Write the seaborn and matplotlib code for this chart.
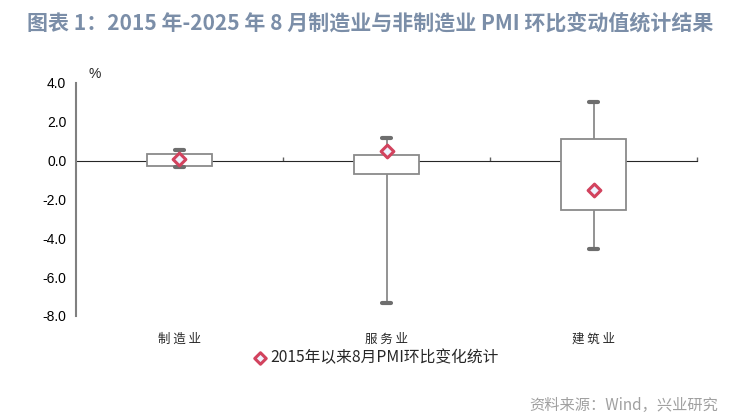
import numpy as np
import pandas as pd
import matplotlib
matplotlib.use('Agg')
import matplotlib.pyplot as plt
import seaborn as sns

# 2015-2025年8月 PMI 环比变动值
categories = ['制 造 业', '服 务 业', '建 筑 业']
whisker_low = [-0.35, -7.33, -4.55]
box_low = [-0.27, -0.69, -2.54]
box_mid = [0.05, -0.20, -0.70]    # 中位线不显示，只用来凑五点数据
box_high = [0.32, 0.27, 1.12]
whisker_high = [0.55, 1.19, 3.00]
mean_vals = [0.09, 0.50, -1.51]
yticks = [-8, -6, -4, -2, 0, 2, 4]
legend_label = '2015年以来8月PMI环比变化统计'

sns.set_style('white')
plt.rcParams['font.family'] = ['Liberation Sans', 'Noto Sans CJK SC', 'DejaVu Sans']
plt.rcParams['axes.unicode_minus'] = False

rows = []
for i, c in enumerate(categories):
    for v in [whisker_low[i], box_low[i], box_mid[i], box_high[i], whisker_high[i]]:
        rows.append({'cat': c, 'val': v})
df = pd.DataFrame(rows)
means = pd.DataFrame({'cat': categories, 'val': mean_vals})

fig = plt.figure(figsize=(7.56, 4.19), dpi=100)
ax = fig.add_axes([0.1005, 0.246, 0.8215, 0.556])

sns.boxplot(data=df, x='cat', y='val', ax=ax, width=0.315, whis=np.inf,
            color='white', linecolor='#8a8a8a', linewidth=1.3, showfliers=False,
            medianprops={'linewidth': 0},
            capprops={'color': '#6e6e6e', 'linewidth': 3},
            capwidths=0.048)

sns.scatterplot(data=means, x='cat', y='val', ax=ax, marker='D', s=42,
                color='#eef3ff', edgecolor='#d2435e', linewidth=2.2,
                zorder=5, label=legend_label)

ax.set_ylim(-8, 4)
ax.set_xlim(-0.5, 2.5)
ax.set_yticks(yticks)
ax.set_yticklabels([f'{t:.1f}' for t in yticks], fontsize=10, color='#000000')
ax.set_xlabel('')
ax.set_ylabel('')

for s in ['top', 'right', 'bottom']:
    ax.spines[s].set_visible(False)
ax.spines['left'].set_color('#808080')
ax.spines['left'].set_linewidth(1.5)
ax.tick_params(axis='y', direction='out', length=4, width=1.2, color='#808080', pad=3)
ax.tick_params(axis='x', length=0, pad=12)
for lab in ax.get_xticklabels():
    lab.set_fontfamily(['Noto Sans CJK SC'])
    lab.set_fontsize(9)

# 零轴，带分类分隔刻度
y0, y1 = ax.get_ylim()
sec = ax.secondary_xaxis((0 - y0) / (y1 - y0))
sec.set_xticks([0.5, 1.5, 2.5])
sec.set_xticklabels([])
sec.tick_params(direction='out', length=3, width=1, color='#606060')
sec.spines['bottom'].set_color('#000000')
sec.spines['bottom'].set_linewidth(1.2)

ax.annotate('%', xy=(0.02, 1.02), xycoords='axes fraction', fontsize=10)

leg = ax.legend(loc='upper center', bbox_to_anchor=(0.482, -0.115), frameon=False,
                handlelength=1.0, handletextpad=0.15, borderaxespad=0, markerscale=0.9,
                prop={'family': ['Noto Sans CJK SC'], 'size': 11.3})

fig.text(0.036, 0.945, '图表 1：2015 年-2025 年 8 月制造业与非制造业 PMI 环比变动值统计结果',
         fontsize=15.1, fontweight='bold', color='#7b8ea8',
         family=['Noto Sans CJK SC'], va='center', ha='left')
fig.text(0.95, 0.033, '资料来源：Wind，兴业研究', fontsize=11, color='#a0a0a0',
         family=['Noto Sans CJK SC'], ha='right', va='center')

fig.savefig('out.png', dpi=100)
